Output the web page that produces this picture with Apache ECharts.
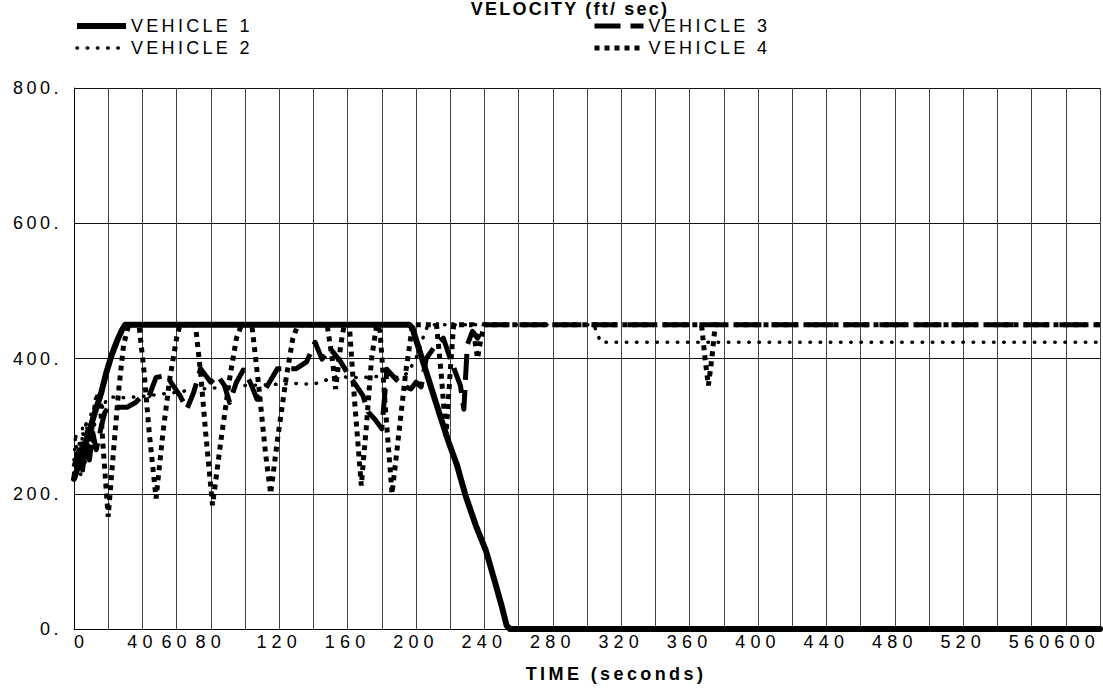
<!DOCTYPE html>
<html>
<head>
<meta charset="utf-8">
<script src="https://cdn.jsdelivr.net/npm/echarts@6/dist/echarts.min.js"></script>
<style>
  html, body { margin: 0; padding: 0; background: #fff; }
  #chart { width: 1103px; height: 688px; }
</style>
</head>
<body>
<div id="chart"></div>
<script>
// Axis ticks and titles
const titleText = 'VELOCITY (ft/ sec)';
const timeAxisName = 'TIME (seconds)';
const timeLabels = [0, 40, 60, 80, 120, 160, 200, 240, 280, 320, 360, 400, 440, 480, 520, 560, 600];
const speedTicks = [0, 200, 400, 600, 800];
const vehicleNames = ['VEHICLE 1', 'VEHICLE 2', 'VEHICLE 3', 'VEHICLE 4'];

// Velocity traces: [time (s), velocity (ft/sec)]
const vehicle1 = [
  [0, 222], [4, 252], [8, 285], [12, 318], [16, 350], [19, 380], [22, 405], [25, 425], [28, 442], [30, 450],
  [196, 450], [198, 445], [199, 436], [203, 404], [207, 372], [211, 340], [215, 308], [219, 277],
  [224, 242], [229, 197], [235, 153], [241, 115], [246, 71], [250, 35], [253, 5], [255, 0], [600, 0]
];
const vehicle2 = [
  [0, 250], [1, 290], [2, 235], [3, 275], [4, 225], [5, 300], [6, 250], [7, 310], [8, 265], [10, 320],
  [11, 275], [13, 330], [15, 345], [17, 325], [19, 340], [22, 343], [30, 342], [40, 344], [50, 347],
  [60, 350], [70, 354], [80, 356], [90, 358], [100, 360], [110, 361], [120, 362], [130, 363], [140, 362],
  [145, 366], [150, 370], [155, 374], [160, 372], [170, 372], [180, 374], [190, 372], [195, 378],
  [200, 400], [204, 430], [207, 450], [304, 450], [306, 437], [308, 424], [600, 424]
];
const vehicle3 = [
  [0, 240], [3, 265], [5, 235], [7, 275], [9, 250], [11, 290], [13, 265], [16, 300], [18, 320], [20, 328],
  [31, 328], [36, 335], [40, 345], [44, 345], [48, 372], [54, 375], [58, 360], [62, 345], [66, 325],
  [70, 350], [74, 385], [80, 365], [84, 375], [88, 360], [91, 335], [95, 365], [99, 383], [103, 365],
  [107, 340], [112, 355], [119, 385], [130, 385], [136, 395], [141, 424], [145, 399], [150, 414],
  [156, 395], [161, 374], [165, 360], [169, 345], [172, 321], [176, 310], [180, 296], [183, 384],
  [188, 370], [192, 360], [197, 355], [200, 365], [203, 358], [206, 400], [211, 418], [216, 430],
  [220, 400], [223, 380], [226, 360], [228, 325], [230, 420], [233, 440], [236, 430], [240, 450], [600, 450]
];
const vehicle4 = [
  [0, 225], [2, 265], [3, 235], [5, 280], [6, 245], [8, 300], [9, 260], [11, 310], [13, 340], [15, 350],
  [17, 270], [19, 200], [20, 166], [23, 260], [26, 350], [29, 420], [32, 450], [38, 450], [41, 380],
  [44, 290], [48, 193], [52, 290], [56, 370], [60, 430], [62, 450], [71, 450], [74, 380], [77, 290],
  [81, 183], [86, 280], [91, 370], [95, 430], [98, 450], [104, 450], [108, 360], [112, 260], [115, 200],
  [119, 280], [124, 370], [128, 430], [131, 450], [148, 450], [151, 400], [153, 355], [156, 420],
  [158, 450], [161, 450], [164, 340], [168, 212], [171, 300], [174, 400], [177, 450], [179, 440],
  [182, 330], [186, 200], [190, 290], [194, 380], [198, 450], [212, 450], [215, 370], [217.5, 285],
  [220, 380], [222, 450], [233, 450], [236, 400], [238, 430], [240, 450], [367, 450], [369, 400],
  [371, 360], [373, 400], [375, 450], [600, 450]
];

const FONT = '"Liberation Sans", Arial, Helvetica, sans-serif';

// Stroke styles shared by each trace and its legend sample
const styles = {
  'VEHICLE 1': { width: 6, type: 'solid', cap: 'butt', join: 'round' },
  'VEHICLE 2': { width: 3.5, type: [0.5, 9.7], cap: 'round', join: 'round' },
  'VEHICLE 3': { width: 5, type: [26, 10], cap: 'butt', join: 'round' },
  'VEHICLE 4': { width: 5, type: [5, 5], cap: 'butt', join: 'miter' }
};

const dom = document.getElementById('chart');
const chart = echarts.init(dom, null, { renderer: 'svg' });

const legendItem = (name) => ({
  name,
  lineStyle: Object.assign({ color: '#000' }, styles[name]),
  itemStyle: { opacity: 0 }
});

const legendBase = {
  orient: 'vertical',
  top: 17,
  padding: 0,
  itemWidth: 49,
  itemHeight: 14,
  itemGap: 4,
  selectedMode: false,
  textStyle: { fontFamily: FONT, fontSize: 18, color: '#000' }
};

const lineSeries = (name, data, z) => ({
  name,
  type: 'line',
  data,
  showSymbol: false,
  symbol: 'none',
  z,
  lineStyle: Object.assign({ color: '#000' }, styles[name], name === 'VEHICLE 1' ? { cap: 'round' } : {}),
  itemStyle: { color: '#000' }
});

chart.setOption({
  animation: false,
  backgroundColor: '#fff',
  textStyle: { fontFamily: FONT },
  title: {
    text: titleText,
    left: 570,
    top: 0,
    textAlign: 'center',
    padding: 0,
    textStyle: { fontFamily: FONT, fontSize: 18, fontWeight: 'bold', color: '#000' }
  },
  legend: [
    Object.assign({ left: 74, data: [legendItem(vehicleNames[0]), legendItem(vehicleNames[1])] }, legendBase),
    Object.assign({ left: 592, data: [legendItem(vehicleNames[2]), legendItem(vehicleNames[3])] }, legendBase)
  ],
  grid: { left: 74, right: 1, top: 88, bottom: 57, containLabel: false },
  xAxis: {
    type: 'value',
    min: 0,
    max: 600,
    interval: 20,
    name: timeAxisName,
    nameLocation: 'middle',
    nameGap: 36,
    nameTextStyle: { fontFamily: FONT, fontSize: 18, fontWeight: 'bold', color: '#000', padding: [0, 0, 0, 58] },
    axisLine: { show: true, lineStyle: { color: '#000', width: 1 } },
    axisTick: { show: false },
    axisLabel: {
      color: '#000',
      fontFamily: FONT,
      fontSize: 18,
      margin: 4,
      alignMinLabel: 'left',
      alignMaxLabel: 'right',
      formatter: (v) => (timeLabels.includes(v) ? String(v) : '')
    },
    splitLine: { show: true, lineStyle: { color: '#444', width: 1 } }
  },
  yAxis: {
    type: 'value',
    min: speedTicks[0],
    max: speedTicks[speedTicks.length - 1],
    interval: 200,
    axisLine: { show: true, lineStyle: { color: '#000', width: 1 } },
    axisTick: { show: false },
    axisLabel: {
      color: '#000',
      fontFamily: FONT,
      fontSize: 18,
      margin: 12,
      formatter: (v) => v + '.'
    },
    splitLine: { show: true, lineStyle: { color: '#111', width: 1 } }
  },
  series: [
    lineSeries(vehicleNames[3], vehicle4, 2),
    lineSeries(vehicleNames[1], vehicle2, 3),
    lineSeries(vehicleNames[2], vehicle3, 4),
    lineSeries(vehicleNames[0], vehicle1, 5)
  ]
});

// Wide tracking on the chart's lettering (title, legend, axis text)
function trackingFor(s) {
  if (s === titleText) return 2.2;
  if (s === timeAxisName) return 3.4;
  if (vehicleNames.includes(s)) return 3.3;
  if (/^\d+\.$/.test(s)) return 3.5;
  if (/^\d+$/.test(s)) return 5.2;
  return 0;
}
function applyTracking() {
  dom.querySelectorAll('svg text').forEach((t) => {
    const s = trackingFor(t.textContent);
    if (s) t.setAttribute('letter-spacing', s + 'px');
  });
}
chart.on('finished', applyTracking);
applyTracking();
</script>
</body>
</html>
